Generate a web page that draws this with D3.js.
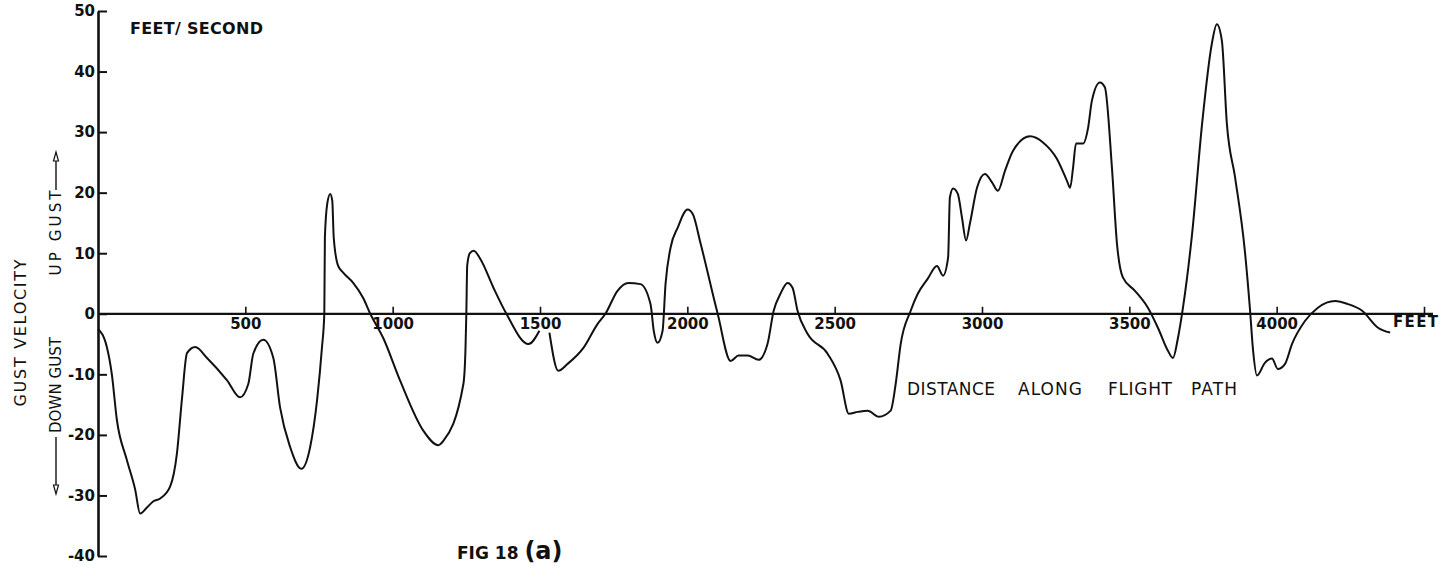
<!DOCTYPE html>
<html>
<head>
<meta charset="utf-8">
<script src="https://cdn.jsdelivr.net/npm/d3@7/dist/d3.min.js"></script>
<style>
    html, body { margin: 0; padding: 0; background: #fff; }
    svg { display: block; }
    text { font-family: "DejaVu Sans", sans-serif; font-weight: bold; fill: #111; }
</style>
</head>
<body>
<div id="chart"></div>
<script>
// distance along flight path (feet) and gust velocity (feet/second)
// null marks the break in the trace just after 1500 ft
const distance = [
    0, 30, 47, 64, 97, 126, 143, 166, 187, 211, 245, 268, 285, 302, 330, 370, 438, 482, 510, 527,
    561, 595, 618, 652, 690, 720, 744, 760, 768, 770, 778, 788, 795, 800, 815, 832, 866, 900, 924, 968,
    1025, 1104, 1155, 1172, 1240, 1247, 1250, 1253, 1262, 1275, 1298, 1342, 1386, 1461, 1498,
    1515,
    1532, 1562, 1593, 1648, 1695, 1722, 1763, 1800, 1841, 1875, 1886, 1899, 1916, 1926, 1943, 1967,
    2001, 2018, 2045, 2103, 2147, 2174, 2205, 2242, 2272, 2293, 2316, 2340, 2357, 2374, 2408, 2476,
    2520, 2548, 2578, 2612, 2650, 2690, 2707, 2724, 2758, 2782, 2816, 2847, 2868, 2885, 2891, 2902,
    2918, 2932, 2946, 2959, 2983, 3010, 3034, 3054, 3078, 3105, 3163, 3207, 3254, 3288, 3299, 3309,
    3319, 3343, 3360, 3373, 3400, 3417, 3441, 3458, 3478, 3519, 3563, 3597, 3631, 3648, 3665, 3682,
    3713, 3747, 3780, 3797, 3814, 3831, 3859, 3892, 3909, 3920, 3933, 3960, 3984, 4004, 4028, 4052,
    4096, 4140, 4198, 4242, 4290, 4344, 4385
];
const gust = [
    -2.5, -5.5, -10, -17.5, -24, -29, -33, -32, -31, -30.5, -28.5, -23, -14, -6.5, -5.5, -7.3, -11, -13.8, -11.6, -6.6,
    -4.3, -7.3, -15.5, -22, -25.6, -22, -14, -5.6, 0, 12.6, 18.2, 19.8, 18.7, 12.6, 7.9, 6.8, 5.1, 2.6, 0, -4,
    -11, -19.3, -21.7, -21, -11.6, -6, 0, 8, 10, 10.4, 9, 4.3, 0, -5, -2.8,
    null,
    -3.1, -9.4, -8.3, -5.6, -1.7, 0, 3.8, 5.1, 4.9, 1.6, -2.8, -4.8, -2.8, 4.9, 10.9, 14.2,
    17.2, 16.5, 11.6, 0, -7.8, -6.9, -6.9, -7.6, -5, 0.5, 3.3, 5.1, 4.3, 0.5, -3.3, -6.6,
    -11, -16.5, -16.2, -16, -17, -16, -11.6, -5, 0.5, 3.3, 5.8, 7.9, 6.3, 9.3, 19.2, 20.7,
    19.8, 15.9, 12.1, 14.9, 20.8, 23.1, 21.7, 20.3, 23.6, 26.9, 29.3, 28.3, 25.6, 22, 20.8, 24.1,
    28.1, 28.1, 30.7, 35.2, 38.2, 37.4, 24.1, 11.6, 6, 3.8, 1, -2.3, -6.1, -7.3, -4, 1,
    13.2, 31.4, 44.6, 47.8, 45.1, 31.4, 22.5, 10.4, 1, -6.1, -10.2, -8.1, -7.4, -9.1, -8.3, -5,
    -1.2, 1, 2.1, 1.6, 0.5, -2.3, -3.1
];
const xTicks = [500, 1000, 1500, 2000, 2500, 3000, 3500, 4000, 4500];
const yTicks = [50, 40, 30, 20, 10, 0, -10, -20, -30, -40];
const xTitleWords = ["DISTANCE", "ALONG", "FLIGHT", "PATH"];

const width = 1445, height = 569;

const svg = d3.select("#chart").append("svg")
    .attr("width", width)
    .attr("height", height);

const x = d3.scaleLinear().domain([0, 4500]).range([98, 1424]);
const y = d3.scaleLinear().domain([-40, 50]).range([556, 11]);

// X axis (ticks point up, labels below)
const xAxis = svg.append("g")
    .attr("transform", `translate(0,${y(0)})`)
    .call(d3.axisBottom(x)
        .tickValues(xTicks)
        .tickSizeInner(-7)
        .tickSizeOuter(0)
        .tickPadding(5)
        .tickFormat(d => d === 4500 ? "" : d));
xAxis.select(".domain").remove();
xAxis.append("line")
    .attr("x1", x(0)).attr("x2", 1433)
    .attr("stroke", "#111").attr("stroke-width", 2.2);
xAxis.selectAll(".tick line").attr("stroke", "#111").attr("stroke-width", 1.6);
xAxis.selectAll(".tick text")
    .attr("fill", "#111")
    .style("font-size", "15px")
    .style("font-family", "DejaVu Sans, sans-serif")
    .style("font-weight", "bold");

// Y axis (ticks point right)
const yAxis = svg.append("g")
    .attr("transform", `translate(${x(0)},0)`)
    .call(d3.axisLeft(y)
        .tickValues(yTicks)
        .tickSizeInner(-9)
        .tickSizeOuter(0)
        .tickPadding(3)
        .tickFormat(d => String(d)));
yAxis.select(".domain").attr("stroke", "#111").attr("stroke-width", 2.6);
yAxis.selectAll(".tick line").attr("stroke", "#111").attr("stroke-width", 2);
yAxis.selectAll(".tick text")
    .attr("fill", "#111")
    .style("font-size", "15px")
    .style("font-family", "DejaVu Sans, sans-serif")
    .style("font-weight", "bold");

// Trace
const points = distance.map((d, i) => ({ ft: d, v: gust[i] }));
const line = d3.line()
    .defined(d => d.v !== null)
    .x(d => x(d.ft))
    .y(d => y(d.v))
    .curve(d3.curveMonotoneX);

svg.append("path")
    .datum(points)
    .attr("fill", "none")
    .attr("stroke", "#111")
    .attr("stroke-width", 2)
    .attr("stroke-linejoin", "round")
    .attr("d", line);

// Labels
svg.append("text")
    .attr("x", 130).attr("y", 34)
    .attr("textLength", 133).attr("lengthAdjust", "spacing")
    .style("font-size", "16px")
    .text("FEET/ SECOND");

svg.append("text")
    .attr("transform", "translate(26,333) rotate(-90)")
    .attr("text-anchor", "middle")
    .attr("textLength", 147).attr("lengthAdjust", "spacing")
    .style("font-size", "16px").style("font-weight", "normal")
    .text("GUST VELOCITY");

svg.append("text")
    .attr("transform", "translate(61,233) rotate(-90)")
    .attr("text-anchor", "middle")
    .attr("textLength", 85).attr("lengthAdjust", "spacing")
    .style("font-size", "15px").style("font-weight", "normal")
    .text("UP GUST");

svg.append("text")
    .attr("transform", "translate(61,385) rotate(-90)")
    .attr("text-anchor", "middle")
    .attr("textLength", 96).attr("lengthAdjust", "spacing")
    .style("font-size", "15px").style("font-weight", "normal")
    .text("DOWN GUST");

// gust direction arrows
svg.append("line")
    .attr("x1", 56).attr("y1", 190).attr("x2", 56).attr("y2", 158)
    .attr("stroke", "#111").attr("stroke-width", 1.4);
svg.append("path")
    .attr("d", "M56,152 L53.5,161 L58.5,161 Z")
    .attr("fill", "#fff").attr("stroke", "#111").attr("stroke-width", 1.2);
svg.append("line")
    .attr("x1", 56).attr("y1", 437).attr("x2", 56).attr("y2", 487)
    .attr("stroke", "#111").attr("stroke-width", 1.4);
svg.append("path")
    .attr("d", "M56,494 L53.5,485 L58.5,485 Z")
    .attr("fill", "#fff").attr("stroke", "#111").attr("stroke-width", 1.2);

// x title, one word at a time to keep the wide gaps of the lettering
const wordX = [907, 1018, 1108, 1191];
const wordW = [88, 64, 64, 46];
svg.selectAll(".xtitle")
    .data(xTitleWords)
    .join("text")
    .attr("class", "xtitle")
    .attr("x", (d, i) => wordX[i])
    .attr("y", 395)
    .attr("textLength", (d, i) => wordW[i]).attr("lengthAdjust", "spacing")
    .style("font-size", "17px").style("font-weight", "normal")
    .text(d => d);

svg.append("text")
    .attr("x", 1393).attr("y", 327)
    .attr("textLength", 45).attr("lengthAdjust", "spacing")
    .style("font-size", "15px")
    .text("FEET");

const fig = svg.append("text")
    .attr("x", 457).attr("y", 559)
    .style("font-size", "17px");
fig.append("tspan").text("FIG 18 ");
fig.append("tspan").style("font-size", "24px").text("(a)");
</script>
</body>
</html>
